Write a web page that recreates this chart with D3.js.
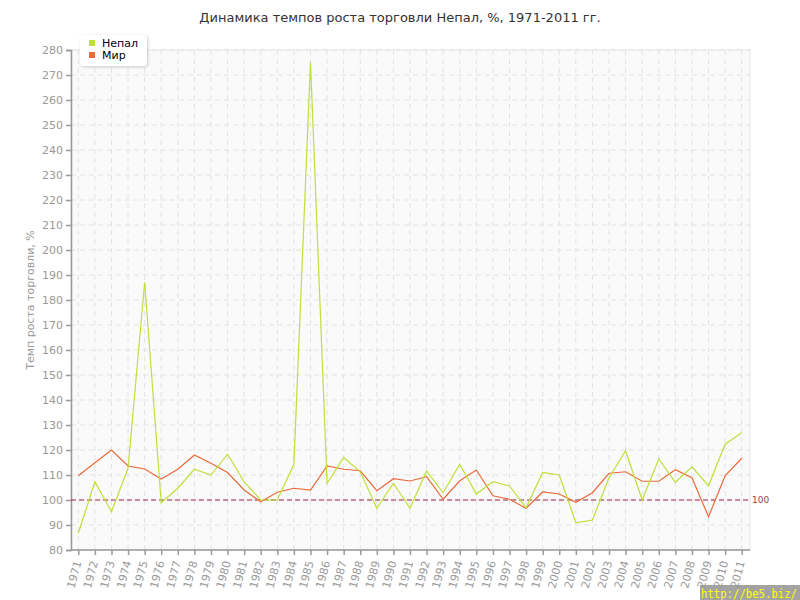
<!DOCTYPE html>
<html><head><meta charset="utf-8">
<script src="https://cdn.jsdelivr.net/npm/d3@7/dist/d3.min.js"></script>
<style>body{margin:0;background:#fff;}svg{display:block;font-family:"DejaVu Sans",Verdana,sans-serif;}</style>
</head><body>
<script>
const years = d3.range(1971, 2012);
const nepal = [86.7,107.3,95.3,112.7,187.1,98.9,104.7,112.3,110,118.3,107.3,100,100,114.3,275.3,106.7,117,111.3,96.7,106.7,96.7,111.6,102.9,114.3,102.4,107.3,105.6,96.9,111,110,90.9,92,108.9,119.7,100,116.4,107.1,113.3,105.7,122.3,126.9];
const world = [109.7,114.9,120,113.6,112.4,108.4,112.3,118,114.7,111,104,99.3,103.1,104.7,104,113.6,112.3,111.7,103.7,108.5,107.6,109.3,100.3,107.7,112,101.7,100.3,96.7,103.2,102.4,99.1,102.9,110.7,111.3,107.5,107.5,112.1,108.9,93.3,109.7,116.7];
const yTicks = d3.range(80, 281, 10);
const seriesNames = ["Непал", "Мир"];
const colors = ["#bde03a", "#ea6a3a"];

const W = 800, H = 600;
const svg = d3.select("body").append("svg").attr("width", W).attr("height", H);
const L = 71, R = 750, T = 50, B = 550;
const x = d3.scalePoint().domain(years).range([78.3, 741.7]);
const y = d3.scaleLinear().domain([80, 280]).range([B, T]);

svg.append("rect").attr("x", L).attr("y", T).attr("width", R - L).attr("height", B - T).attr("fill", "#fafafa").attr("stroke", "#e6e6e6");

// grid
svg.append("g").selectAll("line").data(yTicks.slice(1)).join("line")
  .attr("x1", L).attr("x2", R).attr("y1", d => y(d)).attr("y2", d => y(d))
  .attr("stroke", "#e2e2e2").attr("stroke-dasharray", "5,4");
svg.append("g").selectAll("line").data(years).join("line")
  .attr("x1", d => x(d)).attr("x2", d => x(d)).attr("y1", T).attr("y2", B)
  .attr("stroke", "#e2e2e2").attr("stroke-dasharray", "5,4");

// axes
const yAxis = svg.append("g").attr("transform", `translate(${L},0)`)
  .call(d3.axisLeft(y).tickValues(yTicks).tickSize(5).tickPadding(3));
const xAxis = svg.append("g").attr("transform", `translate(0,${B})`)
  .call(d3.axisBottom(x).tickSize(5).tickPadding(4));
[yAxis, xAxis].forEach(g => {
  g.select(".domain").attr("stroke", "#999").attr("stroke-width", 1.5);
  g.selectAll(".tick line").attr("stroke", "#999").attr("stroke-width", 1.5);
  g.selectAll("text").attr("fill", "#999").style("font-size", "11px").style("font-family", "DejaVu Sans, sans-serif");
});
xAxis.select(".domain").attr("d", `M${L},0H${R}`);
xAxis.selectAll(".tick text").attr("text-anchor", "end").attr("x", 0).attr("y", 0).attr("dx", 0).attr("dy", "0.35em")
  .attr("transform", "translate(-1,11) rotate(-75)");

// reference line 100
svg.append("line").attr("x1", L).attr("x2", R).attr("y1", y(100)).attr("y2", y(100))
  .attr("stroke", "#a0283c").attr("stroke-width", 1).attr("stroke-dasharray", "5,3");
svg.append("text").attr("x", R + 2).attr("y", y(100) + 3).attr("fill", "#a0404f")
  .style("font-size", "9px").text("100");

// lines
const line = d3.line().x((d, i) => x(years[i])).y(d => y(d));
[world, nepal].forEach((s, k) => {
  svg.append("path").datum(s).attr("d", line).attr("fill", "none")
    .attr("stroke", k === 0 ? colors[1] : colors[0]).attr("stroke-width", 1.2);
});

// title
svg.append("text").attr("x", 400).attr("y", 22).attr("text-anchor", "middle")
  .attr("fill", "#333").style("font-size", "13px").text("Динамика темпов роста торговли Непал, %, 1971-2011 гг.");

// y axis title
svg.append("text").attr("transform", "translate(34,300) rotate(-90)").attr("text-anchor", "middle")
  .attr("fill", "#999").style("font-size", "11px").text("Темп роста торговли, %");

// legend
const defs = svg.append("defs");
const f = defs.append("filter").attr("id", "sh").attr("x", "-20%").attr("y", "-20%").attr("width", "140%").attr("height", "150%");
f.append("feDropShadow").attr("dx", 1).attr("dy", 1).attr("stdDeviation", 1.5).attr("flood-color", "#000").attr("flood-opacity", 0.2);
svg.append("rect").attr("x", 80).attr("y", 35).attr("width", 67).attr("height", 31).attr("rx", 4)
  .attr("fill", "#fff").attr("filter", "url(#sh)");
seriesNames.forEach((n, i) => {
  svg.append("rect").attr("x", 89).attr("y", 40 + i * 12).attr("width", 6).attr("height", 6).attr("fill", colors[i]);
  svg.append("text").attr("x", 102).attr("y", 47 + i * 12).attr("fill", "#000").style("font-size", "11px").text(n);
});

// watermark
svg.append("rect").attr("x", 700).attr("y", 585).attr("width", 100).attr("height", 15).attr("fill", "#999").attr("opacity", 0.9);
svg.append("text").attr("x", 701).attr("y", 598).attr("fill", "#ffff00").style("font-size", "12px")
  .attr("textLength", 96).attr("lengthAdjust", "spacingAndGlyphs")
  .style("font-family", "DejaVu Sans Mono, monospace").text("http://be5.biz/");
</script>
</body></html>
